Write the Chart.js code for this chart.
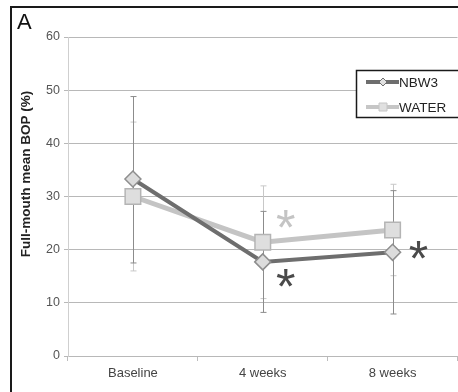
<!DOCTYPE html>
<html lang="en">
<head>
<meta charset="UTF-8" />
<title>BOP chart</title>
<script src="https://cdn.jsdelivr.net/npm/chart.js@4.4.0/dist/chart.umd.min.js"></script>
<style>
  html, body { margin: 0; padding: 0; background: #fff; overflow: hidden; }
  #frame { position: absolute; left: 10px; top: 6px; width: 480px; height: 420px; border: 2px solid #1a1a1a; }
  #chart { position: absolute; left: 0; top: 0; }
</style>
</head>
<body>
<div id="frame"></div>
<canvas id="chart" width="470" height="392"></canvas>
<script>
const categories = ['Baseline', '4 weeks', '8 weeks'];
const nbw3 = [33.3, 17.7, 19.5];
const water = [30.0, 21.4, 23.7];
const nbw3Low = [17.5, 8.2, 7.9];
const nbw3High = [48.8, 27.2, 31.1];
const waterLow = [16.0, 10.8, 15.1];
const waterHigh = [44.0, 32.0, 32.3];
// significance asterisks: which series, category index, value
const starSeries = ['water', 'nbw3', 'nbw3'];
const starIndex = [1, 1, 2];
const starValue = [25.7, 14.6, 19.9];
const yMin = 0, yMax = 60, yStep = 10;

const FONT = "'Liberation Sans', Arial, sans-serif";

const extras = {
  id: 'extras',
  beforeDatasetsDraw(chart) {
    const ctx = chart.ctx, x = chart.scales.x, y = chart.scales.y;
    const bars = [[waterLow, waterHigh, '#c8c8c8'], [nbw3Low, nbw3High, '#8c8c8c']];
    ctx.save();
    ctx.lineWidth = 1;
    bars.forEach(([lo, hi, col]) => {
      ctx.strokeStyle = col;
      lo.forEach((v, i) => {
        const px = Math.round(x.getPixelForValue(i)) + 0.5;
        const y0 = y.getPixelForValue(v), y1 = y.getPixelForValue(hi[i]);
        ctx.beginPath();
        ctx.moveTo(px, y0); ctx.lineTo(px, y1);
        ctx.moveTo(px - 3, y0); ctx.lineTo(px + 3, y0);
        ctx.moveTo(px - 3, y1); ctx.lineTo(px + 3, y1);
        ctx.stroke();
      });
    });
    ctx.restore();
  },
  afterDraw(chart) {
    const ctx = chart.ctx, x = chart.scales.x, y = chart.scales.y;
    ctx.save();
    // panel letter
    ctx.fillStyle = '#111';
    ctx.font = '22px ' + FONT;
    ctx.textBaseline = 'alphabetic';
    ctx.fillText('A', 17, 29);
    // y title
    ctx.save();
    ctx.translate(26, 174);
    ctx.rotate(-Math.PI / 2);
    ctx.font = 'bold 13.5px ' + FONT;
    ctx.fillStyle = '#222';
    ctx.textAlign = 'center';
    ctx.textBaseline = 'middle';
    ctx.fillText('Full-mouth mean BOP (%)', 0, 0);
    ctx.restore();
    // asterisks
    ctx.font = '50px ' + FONT;
    ctx.textAlign = 'center';
    ctx.textBaseline = 'alphabetic';
    starIndex.forEach((idx, k) => {
      const px = x.getPixelForValue(idx) + (idx === 2 ? 26 : 23);
      const py = y.getPixelForValue(starValue[k]);
      const m = ctx.measureText('*');
      const off = (m.actualBoundingBoxAscent - m.actualBoundingBoxDescent) / 2;
      ctx.fillStyle = starSeries[k] === 'water' ? '#c4c4c4' : '#4a4a4a';
      ctx.fillText('*', px, py + off);
    });
    // legend box
    ctx.fillStyle = '#fff';
    ctx.fillRect(357, 71, 110, 46);
    ctx.strokeStyle = '#1a1a1a';
    ctx.lineWidth = 1.5;
    ctx.strokeRect(356.5, 70.5, 112, 47);
    const rows = [['NBW3', '#6e6e6e', 4, 'rectRot', 82], ['WATER', '#c6c6c6', 4, 'rect', 107]];
    rows.forEach(([label, col, w, shape, ry]) => {
      ctx.strokeStyle = col;
      ctx.lineWidth = w;
      ctx.beginPath(); ctx.moveTo(366, ry); ctx.lineTo(399, ry); ctx.stroke();
      ctx.fillStyle = '#e0e0e0';
      ctx.strokeStyle = col;
      ctx.lineWidth = 1;
      ctx.beginPath();
      if (shape === 'rect') { ctx.rect(379, ry - 4, 8, 8); }
      else { ctx.moveTo(383, ry - 4); ctx.lineTo(387, ry); ctx.lineTo(383, ry + 4); ctx.lineTo(379, ry); ctx.closePath(); }
      ctx.fill(); ctx.stroke();
      ctx.fillStyle = '#222';
      ctx.font = '13.5px ' + FONT;
      ctx.textAlign = 'left';
      ctx.textBaseline = 'middle';
      ctx.fillText(label, 399, ry + 1);
    });
    ctx.restore();
  }
};

new Chart(document.getElementById('chart'), {
  type: 'line',
  data: {
    labels: categories,
    datasets: [
      {
        label: 'NBW3', data: nbw3,
        borderColor: '#6e6e6e', borderWidth: 4,
        pointStyle: 'rectRot', pointRadius: 8, pointHoverRadius: 8,
        pointBackgroundColor: '#dcdcdc', pointBorderColor: '#8e8e8e', pointBorderWidth: 1.5
      },
      {
        label: 'WATER', data: water,
        borderColor: '#c4c4c4', borderWidth: 5,
        pointStyle: 'rect', pointRadius: 11, pointHoverRadius: 11,
        pointBackgroundColor: '#dedede', pointBorderColor: '#b4b4b4', pointBorderWidth: 1.5
      }
    ]
  },
  options: {
    responsive: false,
    animation: false,
    layout: { padding: { left: 0, top: 37, right: 4, bottom: 0 } },
    plugins: { legend: { display: false }, tooltip: { enabled: false } },
    scales: {
      x: {
        offset: true,
        afterFit: s => { s.height = 36; },
        grid: { offset: true, drawOnChartArea: false, color: '#bdbdbd', tickLength: 5 },
        border: { display: false },
        ticks: { padding: 5, color: '#444', font: { family: FONT, size: 13 } }
      },
      y: {
        min: yMin, max: yMax,
        afterFit: s => { s.width = 68; },
        grid: { color: '#b8b8b8', tickLength: 4 },
        border: { color: '#cfcfcf' },
        ticks: { stepSize: yStep, padding: 4, color: '#555', font: { family: FONT, size: 12.5 } }
      }
    }
  },
  plugins: [extras]
});
</script>
</body>
</html>
